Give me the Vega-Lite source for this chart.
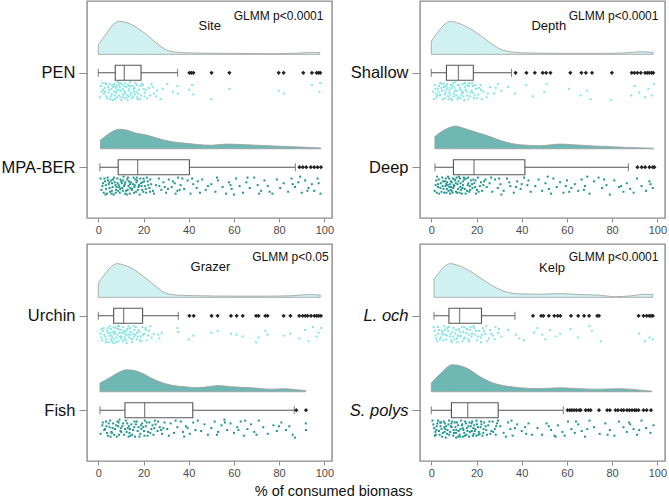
{
"$schema":"https://vega.github.io/schema/vega-lite/v6.json",
"background":"white",
"padding":{"left":0,"top":0,"right":2,"bottom":2},
"title":{"text":"% of consumed biomass","orient":"bottom","anchor":"middle","fontSize":14.5,"fontWeight":"normal","color":"#111","offset":6},
"config":{"font":"Liberation Sans","view":{"stroke":"#8c8c8c","strokeWidth":1.4},"axis":{"title":null,"grid":false,"domain":false,"tickColor":"#8c8c8c","tickWidth":1},"axisX":{"tickSize":4,"labelFontSize":11,"labelColor":"#4a4a4a","labelPadding":2},"axisY":{"tickSize":8,"labelFontSize":16.5,"labelColor":"#111","labelPadding":4}},
"datasets":{
"dens":[
{"p":"S","s":1,"c":[[0,10],[3,20],[6,30],[9.3,35],[12,34],[15.2,31],[18,26.5],[21,21.7],[25.5,12.3],[29.9,5],[34.4,2.3],[40,1.6],[44.7,1.3],[59.5,1],[75,0.7],[82,0.8],[88.5,1.3],[94.4,2],[98,2]]},
{"p":"S","s":2,"c":[[0.9,9],[3,13],[6,18],[9.3,20.7],[13,19.5],[16,17],[20.4,15],[25,12],[29,9.3],[34,7],[38,6],[44,4.5],[50,3.8],[57,5],[63,4.5],[70,3.8],[80,2.8],[90,1.8],[98.5,0.8]]},
{"p":"D","s":1,"c":[[0,14],[3,24],[6,32],[8.5,35],[12,33],[15.8,29],[21.7,20],[26,12.3],[30.4,5.7],[36.3,2.3],[45,1.3],[60,1],[74.7,1],[82,1.2],[86.5,1.7],[92.4,2.7],[96.8,2.3],[98.2,2]]},
{"p":"D","s":2,"c":[[1.6,13],[5,19],[8,22.5],[10.7,24],[14,22],[18.9,18.3],[26.2,12.7],[33.5,6.7],[39.4,4.3],[48.2,3.3],[53,4.2],[57,5],[62.8,4.3],[71.6,3],[81.9,2],[92.1,1],[98.4,0.6]]},
{"p":"G","s":1,"c":[[0,15],[3,25],[6,33],[8.3,35.7],[11,34.5],[14.9,30.7],[20.8,20.7],[25.2,12.3],[29.6,4.7],[35.5,2.3],[44.4,1.7],[59.1,1.3],[73.9,1.3],[85.7,1.7],[93.1,3],[98.2,2.5]]},
{"p":"G","s":2,"c":[[0.75,9.3],[5.8,16],[9,20.5],[12.5,23.3],[16,22.5],[19.1,20],[25,12.7],[32.4,7],[38.3,5.3],[44.2,4.3],[49,5.5],[53,6.7],[59,5.3],[67.8,4.3],[76.6,2.7],[82.5,3.3],[88.4,2],[91.7,1.3]]},
{"p":"K","s":1,"c":[[1.2,19],[4,28],[6.5,34],[8.5,35.7],[11,34.5],[15.8,29.7],[21.6,20.7],[27.4,11.7],[33.3,5.7],[39.1,3.7],[47.9,3.3],[56.6,4],[65.4,3],[74.2,2.3],[81.5,0.7],[88.8,1.7],[94.6,3.3],[98,3]]},
{"p":"K","s":2,"c":[[0,9.3],[4.1,19.3],[9.2,28.7],[12,28],[15.8,25],[21.6,16],[27.4,9.3],[33.3,6],[39.1,4.3],[47.9,3.3],[56.6,4.3],[65.4,3.3],[74.2,2.7],[82.9,3.3],[91.7,2],[97.5,0.7]]}
],
"box":[
{"p":"S","s":1,"lo":0,"q1":7.5,"md":11.5,"q3":18.9,"hi":35.1},
{"p":"S","s":2,"lo":0.7,"q1":8.8,"md":17.4,"q3":40.3,"hi":87.2},
{"p":"D","s":1,"lo":0,"q1":6.7,"md":12.0,"q3":18.6,"hi":35.5},
{"p":"D","s":2,"lo":1.6,"q1":9.8,"md":18.9,"q3":41.4,"hi":87.2},
{"p":"G","s":1,"lo":0,"q1":6.8,"md":11.2,"q3":19.6,"hi":35.4},
{"p":"G","s":2,"lo":0.75,"q1":11.8,"md":20.5,"q3":41.8,"hi":86.7},
{"p":"K","s":1,"lo":1.2,"q1":7.8,"md":12.5,"q3":22.2,"hi":37},
{"p":"K","s":2,"lo":0,"q1":8.9,"md":16.1,"q3":29.6,"hi":58.4}
],
"out":[
{"p":"S","s":1,"o":[40.3,41.2,42.1,50.1,58.0,79.8,82.0,90.7,94.5,96.6,97.5,98.2]},
{"p":"S","s":2,"o":[89,90.5,92,94,95.5,97,98.5]},
{"p":"D","s":1,"o":[37.3,42.1,45.8,49.3,50.8,52.7,61.5,66.4,68.4,71.1,79.9,88.7,89.9,91.2,92.7,94.6,95.6,96.5,97.5,98.2]},
{"p":"D","s":2,"o":[91.2,93.1,94.6,96.5,98,98.7]},
{"p":"G","s":1,"o":[40.3,42.2,50.1,52.8,58.7,61.2,63.9,69.8,70.9,73.9,74.9,82.0,85.0,88.9,90.4,91.6,92.6,94.1,95.6,96.6,97.5,98.5]},
{"p":"G","s":2,"o":[87.6,91.9]},
{"p":"K","s":1,"o":[45.0,48.6,49.6,52.0,54.4,55.9,57.1,61.8,65.0,67.6,69.8,73.4,74.2,91.7,93.9,95.3,96.4,97.2,98.0]},
{"p":"K","s":2,"o":[60.3,61.3,62.2,63.2,64.2,65.4,66.1,68.3,69.5,70.5,74.2,77.8,79.0,81.5,82.6,84.1,85.1,86.6,87.7,88.8,89.9,90.7,91.7,93.9,95.3,97.2]}
],
"pts":[
{"p":"S","s":1,"q":[[1.2,14],[2.5,22],[3.1,11],[4.0,27],[4.8,18],[5.5,25],[6.1,13],[6.9,20],[7.4,28],[8.0,16],[8.6,10],[9.2,24],[9.9,19],[10.5,12],[11.1,26],[11.8,21],[12.4,15],[13.0,29],[13.7,17],[14.3,23],[15.0,14],[15.8,20],[16.5,11],[17.2,26],[18.0,18],[18.9,24],[19.7,13],[20.6,21],[21.5,27],[22.4,16],[23.5,12],[24.6,22],[26.0,19],[27.5,28],[2.0,18],[3.6,25],[5.0,12],[6.4,29],[7.8,21],[9.5,15],[10.9,23],[12.0,11],[13.4,19],[14.8,27],[16.0,16],[17.6,22],[19.2,12],[21.0,18],[3.0,20],[4.4,15],[6.0,23],[7.0,12],[8.3,26],[9.0,18],[10.2,29],[11.5,14],[12.8,24],[14.0,10],[15.4,25],[17.0,13],[18.5,28],[20.0,17],[22.9,24],[0.6,26],[1.8,11],[5.8,17],[8.9,13],[11.3,19],[13.9,14],[16.9,20],[30.5,12],[33.0,20],[35.0,14],[35.2,22],[40.2,18],[41.5,13],[42.0,23],[50.0,28],[58.0,17],[79.8,19],[82.0,22],[94.5,13],[97.8,20],[98.2,11]]},
{"p":"S","s":1,"q":[[2.8,16],[4.6,21],[6.6,15],[7.2,24],[8.1,19],[9.6,11],[10.8,17],[12.2,27],[13.2,13],[14.6,21],[15.6,17],[17.4,28],[18.7,14],[20.4,25],[1.5,20],[5.2,28],[9.8,26],[11.9,22],[13.5,25],[16.2,23],[3.4,12],[7.6,14],[24.0,15],[25.5,25],[28.5,17]]},
{"p":"S","s":2,"q":[[1.0,12],[1.8,20],[2.4,27],[3.0,15],[3.5,23],[4.1,11],[4.6,18],[5.2,26],[5.7,14],[6.3,21],[6.8,29],[7.3,16],[7.9,24],[8.4,12],[9.0,19],[9.5,27],[10.1,15],[10.6,22],[11.2,10],[11.7,18],[12.3,25],[12.8,13],[13.4,20],[13.9,28],[14.5,16],[15.0,23],[15.6,11],[16.1,19],[16.7,26],[17.2,14],[17.8,21],[18.3,29],[18.9,17],[19.4,24],[20.0,12],[20.6,20],[21.2,27],[21.9,15],[22.6,22],[23.4,18],[24.2,25],[2.1,17],[3.8,28],[5.0,22],[6.5,13],[7.6,19],[8.8,25],[10.4,17],[11.9,28],[13.1,11],[14.8,24],[16.4,13],[18.0,19],[19.9,26],[21.5,11],[4.3,14],[9.3,21],[12.0,16],[15.3,18],[6.0,25],[25.5,19],[26.8,12],[27.9,24],[28.8,16],[30.0,27],[31.2,13],[32.5,21],[33.8,17],[35.0,25],[35.3,11],[36.4,19],[38.0,23],[39.5,14],[40.8,28],[42.0,18],[43.5,22],[29.4,21],[34.2,28],[37.2,12],[44.0,15],[46.0,13],[47.5,24],[50.0,18],[51.8,26],[53.0,14],[55.0,21],[56.5,28],[57.8,16],[59.0,23],[61.0,12],[62.5,20],[64.0,27],[65.5,16],[67.0,22],[69.0,11],[70.5,19],[72.0,25],[73.5,14],[75.0,20],[77.0,28],[79.0,13],[80.5,22],[82.0,17],[84.0,26],[85.5,12],[87.0,21],[88.5,16],[90.0,27],[91.5,14],[93.0,22],[94.5,18],[95.5,25],[97.0,12],[98.3,28],[60.0,29],[52.5,11],[71.2,28],[89.3,10]]},
{"p":"S","s":2,"q":[[1.4,24],[2.7,12],[3.3,19],[4.9,16],[5.9,28],[7.0,11],[8.1,21],[8.6,17],[9.8,13],[10.9,25],[11.4,20],[12.6,29],[13.6,15],[14.2,22],[15.8,27],[16.9,16],[17.5,24],[18.6,12],[19.1,20],[20.3,15],[21.0,23],[22.1,19],[23.0,13],[24.6,28],[3.2,29],[6.1,17],[7.7,27],[9.7,23],[11.0,14],[13.0,24],[14.0,18],[16.0,21],[17.0,11],[19.6,16],[22.9,26],[27.0,20],[30.8,23],[33.0,15],[36.0,24],[41.5,12],[45.0,27],[48.5,20],[58.5,19],[66.0,11],[75.8,26],[86.0,18],[92.5,25],[97.5,17]]},
{"p":"D","s":1,"q":[[0.8,20],[1.5,13],[2.3,26],[3.0,17],[3.7,23],[4.3,11],[5.0,28],[5.6,15],[6.2,21],[6.9,12],[7.5,25],[8.1,18],[8.8,27],[9.4,14],[10.0,22],[10.7,10],[11.3,19],[12.0,26],[12.6,16],[13.3,23],[13.9,12],[14.6,29],[15.2,18],[15.9,24],[16.6,14],[17.3,21],[18.1,11],[18.9,27],[19.8,17],[20.7,23],[21.8,13],[23.0,20],[24.5,26],[26.0,15],[27.8,22],[29.5,12],[31.0,19],[2.0,22],[3.4,14],[4.7,19],[6.0,27],[7.2,16],[8.4,23],[9.7,11],[11.0,24],[12.3,13],[13.6,20],[15.0,15],[16.3,28],[17.8,19],[19.2,24],[21.0,16],[1.2,28],[4.0,24],[5.3,12],[7.9,21],[10.3,16],[14.2,25],[16.9,11],[22.4,28],[18.5,14],[9.1,29],[12.8,18],[3.9,11],[6.6,18],[34.0,15],[37.0,22],[42.0,13],[45.0,25],[50.0,20],[51.0,12],[61.0,17],[66.0,24],[69.0,19],[70.5,28],[79.5,29],[88.5,24],[90.0,14],[92.0,21],[94.5,26],[96.0,17],[97.5,24],[98.5,12]]},
{"p":"D","s":1,"q":[[1.8,17],[2.7,24],[4.5,16],[5.9,23],[6.4,14],[7.7,28],[8.6,13],[9.9,25],[10.5,19],[11.7,13],[12.9,27],[14.0,21],[14.9,11],[15.6,20],[17.0,25],[18.4,21],[19.5,13],[20.3,27],[22.0,18],[25.0,22],[28.5,16],[3.2,20],[11.6,28],[16.0,13],[8.9,16]]},
{"p":"D","s":2,"q":[[1.5,25],[2.2,14],[2.9,21],[3.5,28],[4.2,17],[4.8,11],[5.4,23],[6.0,15],[6.7,27],[7.3,19],[7.9,12],[8.5,24],[9.1,16],[9.7,22],[10.3,13],[10.9,26],[11.6,18],[12.2,10],[12.8,21],[13.5,28],[14.1,15],[14.8,23],[15.4,12],[16.1,19],[16.8,26],[17.5,14],[18.2,22],[19.0,17],[19.8,28],[20.6,11],[21.5,20],[22.4,25],[23.4,15],[24.5,21],[3.0,18],[5.0,20],[6.4,12],[7.6,25],[8.2,18],[9.4,27],[10.6,14],[11.9,23],[13.0,17],[14.4,11],[15.8,25],[17.0,20],[18.6,13],[20.2,24],[22.0,16],[8.8,21],[7.0,16],[9.9,19],[11.2,11],[12.5,27],[4.5,26],[2.6,10],[16.4,17],[19.4,21],[13.8,22],[6.3,20],[25.8,17],[27.0,26],[28.2,13],[29.4,22],[30.6,18],[32.0,25],[33.5,12],[35.0,20],[36.5,27],[38.0,15],[39.5,23],[41.0,11],[42.5,19],[44.0,26],[26.5,11],[31.0,29],[34.5,16],[40.0,18],[46.0,20],[47.5,13],[49.0,25],[50.5,17],[52.0,23],[54.0,12],[55.5,21],[57.0,16],[58.5,27],[60.0,14],[62.0,22],[63.5,18],[65.0,25],[66.5,13],[68.0,20],[70.0,28],[72.0,15],[74.0,11],[75.5,22],[77.5,19],[79.0,29],[81.0,14],[83.0,21],[85.0,26],[86.5,17],[88.0,23],[91.0,12],[93.0,20],[95.0,25],[96.5,15],[98.0,22],[61.0,26],[53.0,28],[69.0,10]]},
{"p":"D","s":2,"q":[[1.9,19],[2.4,27],[3.3,13],[4.0,22],[5.2,15],[5.7,27],[6.9,23],[7.4,10],[8.0,21],[8.6,15],[9.0,25],[9.6,12],[10.1,20],[10.8,17],[11.4,27],[12.0,15],[13.2,24],[14.0,19],[14.6,13],[15.2,28],[16.3,11],[17.2,24],[18.0,18],[19.6,14],[20.9,26],[23.0,19],[24.0,13],[8.3,28],[6.6,18],[12.7,12],[30.0,12],[37.5,21],[43.0,14],[51.5,10],[59.5,20],[67.5,24],[76.5,13],[84.0,20],[89.5,27],[97.0,18]]},
{"p":"G","s":1,"q":[[1.0,19],[1.7,26],[2.4,13],[3.1,22],[3.8,16],[4.5,28],[5.1,11],[5.8,21],[6.4,17],[7.1,25],[7.7,13],[8.4,20],[9.0,27],[9.7,15],[10.3,22],[11.0,12],[11.6,18],[12.3,26],[12.9,14],[13.6,23],[14.2,17],[14.9,28],[15.6,11],[16.3,20],[17.0,25],[17.8,15],[18.6,22],[19.5,12],[20.4,19],[21.4,26],[22.5,16],[23.6,23],[26.5,20],[28.0,18],[2.0,16],[3.5,25],[5.3,18],[6.8,12],[8.0,23],[9.4,18],[10.8,27],[12.0,20],[13.3,11],[14.6,24],[16.0,15],[17.4,22],[19.0,27],[20.9,13],[1.3,23],[4.2,13],[5.6,25],[7.4,17],[8.7,14],[10.0,24],[11.3,16],[12.6,29],[15.2,19],[18.2,17],[22.0,21],[4.9,21],[6.1,27],[9.2,11],[13.9,20],[16.6,12],[11.9,23],[35.0,13],[35.3,17],[40.0,25],[42.0,21],[50.0,18],[52.8,16],[58.7,19],[61.2,20],[63.9,22],[69.8,28],[70.9,23],[73.9,16],[74.9,20],[82.0,21],[85.0,19],[89.0,24],[91.5,15],[93.0,27],[95.0,12],[96.6,22],[97.5,18],[98.5,13]]},
{"p":"G","s":1,"q":[[1.5,14],[2.7,20],[3.3,28],[4.4,18],[5.5,14],[6.2,23],[7.0,19],[7.9,28],[8.6,11],[9.5,22],[10.5,18],[11.2,25],[12.4,16],[13.0,20],[14.0,13],[15.0,25],[15.8,22],[17.1,18],[18.4,26],[19.8,20],[21.0,15],[23.0,11],[24.5,19],[27.0,24],[6.7,29]]},
{"p":"G","s":2,"q":[[1.0,25],[1.8,16],[2.6,21],[3.4,12],[4.2,27],[5.0,18],[5.8,23],[6.6,14],[7.4,20],[8.2,28],[9.0,13],[9.8,22],[10.6,17],[11.4,26],[12.2,11],[13.0,19],[13.8,24],[14.6,15],[15.4,21],[16.2,28],[17.0,12],[17.8,18],[18.6,25],[19.4,14],[20.2,22],[21.0,17],[21.8,27],[22.6,13],[23.5,20],[24.4,26],[25.3,15],[26.2,22],[27.2,18],[28.2,25],[29.3,13],[3.0,20],[6.0,24],[8.8,17],[11.8,20],[14.2,27],[16.6,15],[19.0,20],[22.0,23],[25.0,11],[27.8,21],[12.8,14],[15.9,18],[10.2,23],[7.9,16],[4.6,14],[13.4,28],[20.6,11],[24.0,16],[18.2,28],[9.4,10],[5.4,28],[30.5,20],[32.0,14],[33.5,24],[35.0,18],[36.5,12],[37.5,23],[38.8,17],[40.5,25],[42.0,13],[43.0,21],[31.2,27],[34.2,11],[39.5,19],[45.5,22],[47.0,15],[48.5,26],[50.0,19],[51.5,12],[53.0,23],[54.5,16],[55.8,10],[57.0,21],[58.5,14],[60.0,24],[61.5,18],[63.0,12],[64.5,27],[66.0,20],[67.5,15],[69.0,23],[71.0,11],[73.0,18],[75.0,25],[77.5,16],[79.0,22],[81.0,13],[83.0,21],[84.5,17],[86.0,26],[87.0,29],[91.8,14],[91.9,21],[56.0,13],[65.0,11]]},
{"p":"G","s":2,"q":[[2.0,13],[3.8,24],[5.2,11],[7.0,26],[8.5,12],[10.0,19],[11.0,14],[12.5,23],[13.5,17],[15.0,26],[16.0,12],[17.4,22],[18.9,16],[20.4,27],[21.4,13],[23.0,24],[24.8,19],[26.5,12],[28.8,19],[3.6,17],[6.3,19],[9.2,26],[14.0,20],[19.8,18],[38.0,28],[44.0,11],[52.5,26],[62.0,21],[70.0,26],[80.0,17]]},
{"p":"K","s":1,"q":[[1.0,12],[1.8,21],[2.6,27],[3.4,15],[4.2,23],[5.0,18],[5.8,11],[6.6,25],[7.4,16],[8.2,22],[9.0,28],[9.8,13],[10.6,19],[11.4,24],[12.2,14],[13.0,21],[13.8,27],[14.6,12],[15.4,18],[16.2,25],[17.0,15],[17.8,22],[18.6,11],[19.4,20],[20.2,26],[21.0,16],[21.9,23],[22.8,13],[23.8,19],[24.8,27],[26.0,15],[27.2,21],[28.4,12],[29.6,18],[3.0,19],[5.4,26],[7.0,13],[8.6,19],[10.2,25],[12.6,17],[15.0,23],[17.4,12],[19.8,16],[22.3,20],[25.5,24],[4.6,16],[11.8,21],[14.1,17],[16.6,20],[6.2,20],[9.4,17],[2.2,24],[31.0,22],[34.0,15],[37.5,20],[39.0,24],[41.0,26],[45.5,18],[47.0,13],[49.0,20],[50.5,25],[52.5,15],[55.0,22],[57.0,19],[61.5,14],[65.0,23],[70.0,11],[71.0,16],[75.0,27],[92.0,19],[94.5,27],[96.5,23],[98.0,25]]},
{"p":"K","s":1,"q":[[1.4,16],[2.9,12],[3.8,25],[4.9,20],[6.0,15],[6.9,21],[7.8,12],[8.9,26],[9.7,22],[10.9,15],[11.6,28],[12.8,22],[13.5,12],[14.3,24],[15.8,14],[16.8,27],[18.0,19],[19.0,13],[20.6,22],[22.0,28],[23.3,16],[24.2,11],[26.6,19],[28.0,25],[30.0,14]]},
{"p":"K","s":2,"q":[[0.5,11],[1.3,19],[2.0,26],[2.7,14],[3.4,22],[4.1,17],[4.8,28],[5.5,12],[6.2,20],[6.9,25],[7.6,15],[8.3,23],[9.0,18],[9.7,27],[10.4,13],[11.1,21],[11.8,16],[12.5,26],[13.2,11],[13.9,19],[14.6,24],[15.3,14],[16.0,22],[16.7,28],[17.4,17],[18.1,12],[18.8,25],[19.5,20],[20.2,15],[21.0,23],[21.8,18],[22.6,27],[23.4,13],[24.3,21],[25.2,16],[26.1,25],[27.1,12],[28.1,20],[29.1,14],[29.5,11],[1.8,23],[3.9,13],[5.9,23],[7.9,11],[9.9,21],[11.9,28],[13.7,15],[15.7,19],[17.9,22],[19.9,27],[22.0,12],[24.0,17],[26.6,22],[8.9,14],[6.6,17],[10.9,24],[12.9,20],[14.9,27],[16.9,13],[18.6,19],[20.8,26],[4.5,20],[2.4,17],[23.0,24],[28.5,26],[30.5,17],[32.0,24],[34.0,13],[35.0,20],[36.0,27],[38.0,15],[40.0,22],[41.5,18],[43.0,14],[44.5,26],[35.5,11],[47.0,19],[49.0,26],[51.0,14],[53.0,21],[54.5,27],[56.0,16],[58.0,23],[60.5,12],[62.0,20],[63.5,24],[65.0,15],[66.5,22],[68.0,28],[70.0,11],[72.0,18],[74.5,25],[77.0,14],[79.0,21],[81.0,27],[83.0,12],[85.0,18],[86.5,23],[88.0,15],[89.5,20],[91.0,26],[93.0,11],[95.0,19],[97.0,24],[98.3,16],[55.0,28]]},
{"p":"K","s":2,"q":[[0.9,15],[1.6,27],[2.3,21],[3.0,11],[3.7,26],[4.3,13],[5.1,24],[5.7,18],[6.4,29],[7.2,21],[7.9,26],[8.6,17],[9.3,12],[10.0,24],[10.7,18],[11.4,13],[12.1,22],[12.8,28],[13.5,16],[14.2,21],[15.0,12],[15.6,26],[16.4,17],[17.1,23],[17.8,14],[18.4,27],[19.2,22],[20.0,11],[20.6,18],[21.4,25],[22.2,15],[23.1,20],[24.6,26],[25.7,12],[27.4,23],[28.7,17],[6.0,14],[11.0,29],[14.0,28],[19.0,16],[33.0,28],[37.0,19],[42.0,25],[52.0,17],[59.0,27],[64.0,12],[69.0,20],[78.0,26],[87.5,13],[92.0,21]]}
]
},
"columns":2,
"spacing":{"row":26,"column":88},
"bounds":"flush",
"concat":[
{"width":245,"height":217,"layer":[
 {"data":{"name":"dens"},"transform":[{"filter":"datum.p=='S'"},{"flatten":["c"]},{"calculate":"datum.s*100-19.5-datum.c[1]","as":"yt"},{"calculate":"datum.s*100-19.5","as":"yb"}],
  "mark":{"type":"area","interpolate":"monotone","stroke":"#9c9c9c","strokeWidth":0.8},
  "encoding":{"x":{"field":"c[0]","type":"quantitative","scale":{"domain":[-5,103.4],"nice":false,"zero":false},"axis":{"values":[0,20,40,60,80,100]}},"y":{"field":"yt","type":"quantitative","scale":{"domain":[29.3,248.5],"reverse":true,"nice":false,"zero":false},"axis":{"values":[100,200],"labelExpr":"datum.value==100?'PEN':'MPA-BER'"}},"y2":{"field":"yb"},"fill":{"field":"s","type":"nominal","scale":{"domain":[1,2],"range":["#d1f1f1","#6fb7b2"]},"legend":null}}},
 {"data":{"name":"box"},"transform":[{"filter":"datum.p=='S'"},{"calculate":"datum.s*100","as":"yc"}],"layer":[
  {"mark":{"type":"rule","color":"#555","strokeWidth":1.1},"encoding":{"x":{"field":"lo","type":"quantitative"},"x2":{"field":"hi"},"y":{"field":"yc","type":"quantitative"}}},
  {"mark":{"type":"tick","orient":"vertical","size":8,"thickness":1.1,"color":"#555"},"encoding":{"x":{"field":"lo","type":"quantitative"},"y":{"field":"yc","type":"quantitative"}}},
  {"mark":{"type":"tick","orient":"vertical","size":8,"thickness":1.1,"color":"#555"},"encoding":{"x":{"field":"hi","type":"quantitative"},"y":{"field":"yc","type":"quantitative"}}},
  {"mark":{"type":"bar","orient":"horizontal","size":15,"fill":"white","stroke":"#555","strokeWidth":1.1},"encoding":{"x":{"field":"q1","type":"quantitative"},"x2":{"field":"q3"},"y":{"field":"yc","type":"quantitative"}}},
  {"mark":{"type":"tick","orient":"vertical","size":15,"thickness":1.3,"color":"#555"},"encoding":{"x":{"field":"md","type":"quantitative"},"y":{"field":"yc","type":"quantitative"}}}
 ]},
 {"data":{"name":"out"},"transform":[{"filter":"datum.p=='S'"},{"flatten":["o"]},{"calculate":"datum.s*100","as":"yc"}],"mark":{"type":"point","shape":"diamond","filled":true,"size":18,"color":"#222","opacity":1},"encoding":{"x":{"field":"o","type":"quantitative"},"y":{"field":"yc","type":"quantitative"}}},
 {"data":{"name":"pts"},"transform":[{"filter":"datum.p=='S'"},{"flatten":["q"]},{"calculate":"datum.s*100+datum.q[1]","as":"yj"}],"mark":{"type":"square","size":4,"opacity":1},"encoding":{"x":{"field":"q[0]","type":"quantitative"},"y":{"field":"yj","type":"quantitative"},"color":{"field":"s","type":"nominal","scale":{"domain":[1,2],"range":["#7fe4e8","#1d958f"]},"legend":null}}},
 {"data":{"values":[{"t":"Site"}]},"mark":{"type":"text","fontSize":13,"color":"#111","baseline":"middle"},"encoding":{"x":{"datum":49.3,"type":"quantitative"},"y":{"datum":50.5,"type":"quantitative"},"text":{"field":"t"}}},
 {"data":{"values":[{"t":"GLMM p<0.0001"}]},"mark":{"type":"text","fontSize":12,"color":"#111","align":"right","baseline":"middle"},"encoding":{"x":{"datum":99.6,"type":"quantitative"},"y":{"datum":40.4,"type":"quantitative"},"text":{"field":"t"}}}
]},
{"width":245,"height":217,"layer":[
 {"data":{"name":"dens"},"transform":[{"filter":"datum.p=='D'"},{"flatten":["c"]},{"calculate":"datum.s*100-19.5-datum.c[1]","as":"yt"},{"calculate":"datum.s*100-19.5","as":"yb"}],
  "mark":{"type":"area","interpolate":"monotone","stroke":"#9c9c9c","strokeWidth":0.8},
  "encoding":{"x":{"field":"c[0]","type":"quantitative","scale":{"domain":[-5,103.4],"nice":false,"zero":false},"axis":{"values":[0,20,40,60,80,100]}},"y":{"field":"yt","type":"quantitative","scale":{"domain":[29.3,248.5],"reverse":true,"nice":false,"zero":false},"axis":{"values":[100,200],"labelExpr":"datum.value==100?'Shallow':'Deep'"}},"y2":{"field":"yb"},"fill":{"field":"s","type":"nominal","scale":{"domain":[1,2],"range":["#d1f1f1","#6fb7b2"]},"legend":null}}},
 {"data":{"name":"box"},"transform":[{"filter":"datum.p=='D'"},{"calculate":"datum.s*100","as":"yc"}],"layer":[
  {"mark":{"type":"rule","color":"#555","strokeWidth":1.1},"encoding":{"x":{"field":"lo","type":"quantitative"},"x2":{"field":"hi"},"y":{"field":"yc","type":"quantitative"}}},
  {"mark":{"type":"tick","orient":"vertical","size":8,"thickness":1.1,"color":"#555"},"encoding":{"x":{"field":"lo","type":"quantitative"},"y":{"field":"yc","type":"quantitative"}}},
  {"mark":{"type":"tick","orient":"vertical","size":8,"thickness":1.1,"color":"#555"},"encoding":{"x":{"field":"hi","type":"quantitative"},"y":{"field":"yc","type":"quantitative"}}},
  {"mark":{"type":"bar","orient":"horizontal","size":15,"fill":"white","stroke":"#555","strokeWidth":1.1},"encoding":{"x":{"field":"q1","type":"quantitative"},"x2":{"field":"q3"},"y":{"field":"yc","type":"quantitative"}}},
  {"mark":{"type":"tick","orient":"vertical","size":15,"thickness":1.3,"color":"#555"},"encoding":{"x":{"field":"md","type":"quantitative"},"y":{"field":"yc","type":"quantitative"}}}
 ]},
 {"data":{"name":"out"},"transform":[{"filter":"datum.p=='D'"},{"flatten":["o"]},{"calculate":"datum.s*100","as":"yc"}],"mark":{"type":"point","shape":"diamond","filled":true,"size":18,"color":"#222","opacity":1},"encoding":{"x":{"field":"o","type":"quantitative"},"y":{"field":"yc","type":"quantitative"}}},
 {"data":{"name":"pts"},"transform":[{"filter":"datum.p=='D'"},{"flatten":["q"]},{"calculate":"datum.s*100+datum.q[1]","as":"yj"}],"mark":{"type":"square","size":4,"opacity":1},"encoding":{"x":{"field":"q[0]","type":"quantitative"},"y":{"field":"yj","type":"quantitative"},"color":{"field":"s","type":"nominal","scale":{"domain":[1,2],"range":["#7fe4e8","#1d958f"]},"legend":null}}},
 {"data":{"values":[{"t":"Depth"}]},"mark":{"type":"text","fontSize":13,"color":"#111","baseline":"middle"},"encoding":{"x":{"datum":52,"type":"quantitative"},"y":{"datum":50.5,"type":"quantitative"},"text":{"field":"t"}}},
 {"data":{"values":[{"t":"GLMM p<0.0001"}]},"mark":{"type":"text","fontSize":12,"color":"#111","align":"right","baseline":"middle"},"encoding":{"x":{"datum":100.5,"type":"quantitative"},"y":{"datum":39.7,"type":"quantitative"},"text":{"field":"t"}}}
]},
{"width":245,"height":217,"layer":[
 {"data":{"name":"dens"},"transform":[{"filter":"datum.p=='G'"},{"flatten":["c"]},{"calculate":"datum.s*100-19.5-datum.c[1]","as":"yt"},{"calculate":"datum.s*100-19.5","as":"yb"}],
  "mark":{"type":"area","interpolate":"monotone","stroke":"#9c9c9c","strokeWidth":0.8},
  "encoding":{"x":{"field":"c[0]","type":"quantitative","scale":{"domain":[-5,103.4],"nice":false,"zero":false},"axis":{"values":[0,20,40,60,80,100]}},"y":{"field":"yt","type":"quantitative","scale":{"domain":[29.3,248.5],"reverse":true,"nice":false,"zero":false},"axis":{"values":[100,200],"labelExpr":"datum.value==100?'Urchin':'Fish'"}},"y2":{"field":"yb"},"fill":{"field":"s","type":"nominal","scale":{"domain":[1,2],"range":["#d1f1f1","#6fb7b2"]},"legend":null}}},
 {"data":{"name":"box"},"transform":[{"filter":"datum.p=='G'"},{"calculate":"datum.s*100","as":"yc"}],"layer":[
  {"mark":{"type":"rule","color":"#555","strokeWidth":1.1},"encoding":{"x":{"field":"lo","type":"quantitative"},"x2":{"field":"hi"},"y":{"field":"yc","type":"quantitative"}}},
  {"mark":{"type":"tick","orient":"vertical","size":8,"thickness":1.1,"color":"#555"},"encoding":{"x":{"field":"lo","type":"quantitative"},"y":{"field":"yc","type":"quantitative"}}},
  {"mark":{"type":"tick","orient":"vertical","size":8,"thickness":1.1,"color":"#555"},"encoding":{"x":{"field":"hi","type":"quantitative"},"y":{"field":"yc","type":"quantitative"}}},
  {"mark":{"type":"bar","orient":"horizontal","size":15,"fill":"white","stroke":"#555","strokeWidth":1.1},"encoding":{"x":{"field":"q1","type":"quantitative"},"x2":{"field":"q3"},"y":{"field":"yc","type":"quantitative"}}},
  {"mark":{"type":"tick","orient":"vertical","size":15,"thickness":1.3,"color":"#555"},"encoding":{"x":{"field":"md","type":"quantitative"},"y":{"field":"yc","type":"quantitative"}}}
 ]},
 {"data":{"name":"out"},"transform":[{"filter":"datum.p=='G'"},{"flatten":["o"]},{"calculate":"datum.s*100","as":"yc"}],"mark":{"type":"point","shape":"diamond","filled":true,"size":18,"color":"#222","opacity":1},"encoding":{"x":{"field":"o","type":"quantitative"},"y":{"field":"yc","type":"quantitative"}}},
 {"data":{"name":"pts"},"transform":[{"filter":"datum.p=='G'"},{"flatten":["q"]},{"calculate":"datum.s*100+datum.q[1]","as":"yj"}],"mark":{"type":"square","size":4,"opacity":1},"encoding":{"x":{"field":"q[0]","type":"quantitative"},"y":{"field":"yj","type":"quantitative"},"color":{"field":"s","type":"nominal","scale":{"domain":[1,2],"range":["#7fe4e8","#1d958f"]},"legend":null}}},
 {"data":{"values":[{"t":"Grazer"}]},"mark":{"type":"text","fontSize":13,"color":"#111","baseline":"middle"},"encoding":{"x":{"datum":49.6,"type":"quantitative"},"y":{"datum":48.8,"type":"quantitative"},"text":{"field":"t"}}},
 {"data":{"values":[{"t":"GLMM p<0.05"}]},"mark":{"type":"text","fontSize":12,"color":"#111","align":"right","baseline":"middle"},"encoding":{"x":{"datum":101.9,"type":"quantitative"},"y":{"datum":37.4,"type":"quantitative"},"text":{"field":"t"}}}
]},
{"width":245,"height":217,"layer":[
 {"data":{"name":"dens"},"transform":[{"filter":"datum.p=='K'"},{"flatten":["c"]},{"calculate":"datum.s*100-19.5-datum.c[1]","as":"yt"},{"calculate":"datum.s*100-19.5","as":"yb"}],
  "mark":{"type":"area","interpolate":"monotone","stroke":"#9c9c9c","strokeWidth":0.8},
  "encoding":{"x":{"field":"c[0]","type":"quantitative","scale":{"domain":[-5,103.4],"nice":false,"zero":false},"axis":{"values":[0,20,40,60,80,100]}},"y":{"field":"yt","type":"quantitative","scale":{"domain":[29.3,248.5],"reverse":true,"nice":false,"zero":false},"axis":{"values":[100,200],"labelFontStyle":"italic","labelExpr":"datum.value==100?'L. och':'S. polys'"}},"y2":{"field":"yb"},"fill":{"field":"s","type":"nominal","scale":{"domain":[1,2],"range":["#d1f1f1","#6fb7b2"]},"legend":null}}},
 {"data":{"name":"box"},"transform":[{"filter":"datum.p=='K'"},{"calculate":"datum.s*100","as":"yc"}],"layer":[
  {"mark":{"type":"rule","color":"#555","strokeWidth":1.1},"encoding":{"x":{"field":"lo","type":"quantitative"},"x2":{"field":"hi"},"y":{"field":"yc","type":"quantitative"}}},
  {"mark":{"type":"tick","orient":"vertical","size":8,"thickness":1.1,"color":"#555"},"encoding":{"x":{"field":"lo","type":"quantitative"},"y":{"field":"yc","type":"quantitative"}}},
  {"mark":{"type":"tick","orient":"vertical","size":8,"thickness":1.1,"color":"#555"},"encoding":{"x":{"field":"hi","type":"quantitative"},"y":{"field":"yc","type":"quantitative"}}},
  {"mark":{"type":"bar","orient":"horizontal","size":15,"fill":"white","stroke":"#555","strokeWidth":1.1},"encoding":{"x":{"field":"q1","type":"quantitative"},"x2":{"field":"q3"},"y":{"field":"yc","type":"quantitative"}}},
  {"mark":{"type":"tick","orient":"vertical","size":15,"thickness":1.3,"color":"#555"},"encoding":{"x":{"field":"md","type":"quantitative"},"y":{"field":"yc","type":"quantitative"}}}
 ]},
 {"data":{"name":"out"},"transform":[{"filter":"datum.p=='K'"},{"flatten":["o"]},{"calculate":"datum.s*100","as":"yc"}],"mark":{"type":"point","shape":"diamond","filled":true,"size":18,"color":"#222","opacity":1},"encoding":{"x":{"field":"o","type":"quantitative"},"y":{"field":"yc","type":"quantitative"}}},
 {"data":{"name":"pts"},"transform":[{"filter":"datum.p=='K'"},{"flatten":["q"]},{"calculate":"datum.s*100+datum.q[1]","as":"yj"}],"mark":{"type":"square","size":4,"opacity":1},"encoding":{"x":{"field":"q[0]","type":"quantitative"},"y":{"field":"yj","type":"quantitative"},"color":{"field":"s","type":"nominal","scale":{"domain":[1,2],"range":["#7fe4e8","#1d958f"]},"legend":null}}},
 {"data":{"values":[{"t":"Kelp"}]},"mark":{"type":"text","fontSize":13,"color":"#111","baseline":"middle"},"encoding":{"x":{"datum":53.4,"type":"quantitative"},"y":{"datum":49.2,"type":"quantitative"},"text":{"field":"t"}}},
 {"data":{"values":[{"t":"GLMM p<0.0001"}]},"mark":{"type":"text","fontSize":12,"color":"#111","align":"right","baseline":"middle"},"encoding":{"x":{"datum":100.5,"type":"quantitative"},"y":{"datum":38.1,"type":"quantitative"},"text":{"field":"t"}}}
]}
]
}
